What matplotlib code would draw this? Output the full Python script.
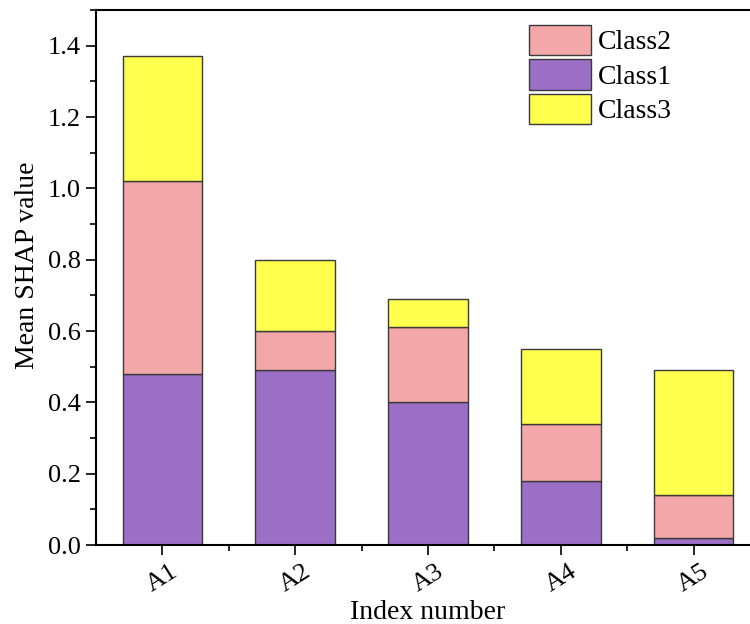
import matplotlib
matplotlib.use("Agg")
import matplotlib.pyplot as plt
from matplotlib.ticker import MultipleLocator, FormatStrFormatter
import numpy as np

categories = ["A1", "A2", "A3", "A4", "A5"]
class1 = [0.48, 0.49, 0.40, 0.18, 0.02]
class2 = [0.54, 0.11, 0.21, 0.16, 0.12]
class3 = [0.35, 0.20, 0.08, 0.21, 0.35]

plt.rcParams['font.family'] = ['Liberation Serif', 'DejaVu Serif']

fig = plt.figure(figsize=(7.5, 6.24), dpi=100)
ax = fig.add_axes([96/750, 79/624, 664/750, 535/624])

x = np.arange(1, len(categories) + 1)
w = 0.6
c1 = np.array(class1)
c2 = np.array(class2)
c3 = np.array(class3)
ec = '#3a3a3a'
b1 = ax.bar(x, c1, w, color='#9b6fc6', edgecolor=ec, linewidth=1.0, label='Class1')
b2 = ax.bar(x, c2, w, bottom=c1, color='#f4a7a9', edgecolor=ec, linewidth=1.0, label='Class2')
b3 = ax.bar(x, c3, w, bottom=c1 + c2, color='#ffff4d', edgecolor=ec, linewidth=1.0, label='Class3')

ax.set_xlim(0.5, 5.5)
ax.set_ylim(0, 1.5)
ax.set_xticks(x)
ax.set_xticklabels(categories, rotation=32)
ax.set_xticks(np.arange(1.5, 5.5, 1.0), minor=True)
ax.set_yticks(np.arange(0, 1.41, 0.2))
ax.yaxis.set_minor_locator(MultipleLocator(0.1))
ax.yaxis.set_major_formatter(FormatStrFormatter('%.1f'))

ax.tick_params(which='major', direction='out', length=7, width=1.2, labelsize=19, pad=4)
ax.tick_params(which='minor', direction='out', length=4, width=1.2)
for s in ax.spines.values():
    s.set_linewidth(1.5)

ax.set_ylabel('Mean SHAP value', fontsize=20)
ax.yaxis.set_label_coords(-0.085, 0.523)
ax.set_xlabel('Index number', fontsize=20, labelpad=3)

leg = ax.legend([b2, b1, b3], ['Class2', 'Class1', 'Class3'], loc='upper left',
                bbox_to_anchor=((529 - 96) / 664, 1 - 15 / 535), frameon=False,
                fontsize=20, handlelength=2.23, handleheight=1.3, labelspacing=0.14,
                handletextpad=0.25, borderaxespad=0.0, borderpad=0.0)

fig.savefig('out.png', dpi=100)
